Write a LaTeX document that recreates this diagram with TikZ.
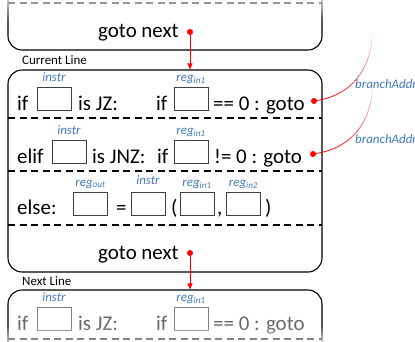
\documentclass[tikz,border=0pt]{standalone}
\usepackage{fontspec}
\setmainfont{Carlito}
\usetikzlibrary{arrows.meta,positioning,fadings}
\definecolor{tagblue}{RGB}{68,120,196}

\begin{document}
\begin{tikzpicture}[x=1bp, y=-1bp,
	linebox/.style={draw, rounded corners=14bp, line width=1.1bp, minimum width=314bp},
	rowsep/.style={line width=1.5bp, dash pattern=on 7bp off 4.5bp},
	field/.style={draw=black!75, line width=0.9bp, minimum width=34bp, minimum height=23bp, inner sep=0pt},
	code/.style={font=\fontsize{21}{25}\selectfont, inner sep=0pt, anchor=base west},
	tag/.style={font=\fontsize{13}{15}\selectfont\itshape, text=tagblue, inner sep=0pt, anchor=base},
	linename/.style={font=\fontsize{13}{15}\selectfont, inner sep=0pt, anchor=base west},
	dot/.style={circle, fill=red, inner sep=0pt, minimum size=6bp},
	jump/.style={red, line width=1bp, -{Triangle[length=6bp, width=5bp]}},
	branch/.style={red, line width=0.8bp, path fading=north}]
	\useasboundingbox (0,0) rectangle (415,342);
	\begin{scope}
	\clip (0,0) rectangle (415,342);

	% previous line
	\node[linebox, minimum height=210bp] (prev) at (165,-55) {};
	\draw[rowsep] (8,3) -- (322,3);
	\node[code] (prevgoto) at (98,37) {goto next};
	\node[dot] (prevdot) at (190,32) {};

	% current line
	\node[linename] (curname) at (22,64) {Current Line};
	\node[linebox, minimum height=202bp] (cur) at (165,171) {};
	\draw[jump] (prevdot) -- (prevdot |- cur.north);
	\foreach \y in {118,171,225}
		\draw[rowsep] (8,\y) -- (322,\y);

	% is JZ
	\node[code] (jzif) at (17,110) {if};
	\node[field] (jzinstr) at (54,98.5) {};
	\node[code] (jzis) at (78,110) {is JZ:};
	\node[code] (jzcond) at (156,110) {if};
	\node[field] (jzreg) at (191,98.5) {};
	\node[code] (jzgoto) at (213,110) {== 0 : goto};
	\node[dot] (jzdot) at (314,101) {};
	\node[tag] (jzinstrtag) at ([yshift=5.5bp]jzinstr.north) {instr};
	\node[tag] (jzregtag) at ([yshift=5.5bp]jzreg.north) {reg\textsubscript{in1}};
	\coordinate (jzend) at (373,30);
	\draw[branch] (jzdot) .. controls (350,95) and (371,72) .. (jzend);
	\node[tag, anchor=base west] (jzaddr) at (355,88) {branchAddr};

	% is JNZ
	\node[code] (jnzif) at (17,163) {elif};
	\node[field] (jnzinstr) at (69,152) {};
	\node[code] (jnzis) at (92,163) {is JNZ:};
	\node[code] (jnzcond) at (157,163) {if};
	\node[field] (jnzreg) at (191,152) {};
	\node[code] (jnzgoto) at (214,163) {!= 0 : goto};
	\node[dot] (jnzdot) at (313,154) {};
	\node[tag] (jnzinstrtag) at ([yshift=5.5bp]jnzinstr.north) {instr};
	\node[tag] (jnzregtag) at ([yshift=5.5bp]jnzreg.north) {reg\textsubscript{in1}};
	\coordinate (jnzend) at (373,84);
	\draw[branch] (jnzdot) .. controls (350,148) and (371,125) .. (jnzend);
	\node[tag, anchor=base west] (jnzaddr) at (355,143) {branchAddr};

	% else
	\node[code] (elsekw) at (17,214) {else:};
	\node[field] (elseout) at (90.5,203.5) {};
	\node[code] (elseeq) at (116,214) {=};
	\node[field] (elseinstr) at (148,203.5) {};
	\node[code] (elseopen) at (171,214) {(};
	\node[field] (elsein1) at (197,203.5) {};
	\node[code] (elsecomma) at (217,214) {,};
	\node[field] (elsein2) at (243.5,203.5) {};
	\node[code] (elseclose) at (265,214) {)};
	\node[tag] (elseouttag) at ([yshift=5.5bp]elseout.north) {reg\textsubscript{out}};
	\node[tag] (elseinstrtag) at ([yshift=7bp]elseinstr.north) {instr};
	\node[tag] (elsein1tag) at ([yshift=5.5bp]elsein1.north) {reg\textsubscript{in1}};
	\node[tag] (elsein2tag) at ([yshift=5.5bp]elsein2.north) {reg\textsubscript{in2}};

	% fall through
	\node[code] (curgoto) at (98,259) {goto next};
	\node[dot] (curdot) at (190,253) {};

	% next line
	\node[linename] (nextname) at (22,285) {Next Line};
	\node[linebox, minimum height=202bp] (next) at (165,391) {};
	\draw[jump] (curdot) -- (curdot |- next.north);
	\draw[rowsep] (8,339) -- (322,339);
	\begin{scope}[every node/.append style={text=black!60}]
		\node[code] (nxif) at (17,330) {if};
		\node[field, draw=black!50] (nxinstr) at (54,318.5) {};
		\node[code] (nxis) at (78,330) {is JZ:};
		\node[code] (nxcond) at (156,330) {if};
		\node[field, draw=black!50] (nxreg) at (191,318.5) {};
		\node[code] (nxgoto) at (213,330) {== 0 : goto};
	\end{scope}
	\node[tag] (nxinstrtag) at ([yshift=5.5bp]nxinstr.north) {instr};
	\node[tag] (nxregtag) at ([yshift=5.5bp]nxreg.north) {reg\textsubscript{in1}};

	% soft edges
	\fill[white, path fading=south] (0,-10) rectangle (415,20);
	\fill[white, path fading=north] (0,326) rectangle (415,350);
	\end{scope}
\end{tikzpicture}
\end{document}
